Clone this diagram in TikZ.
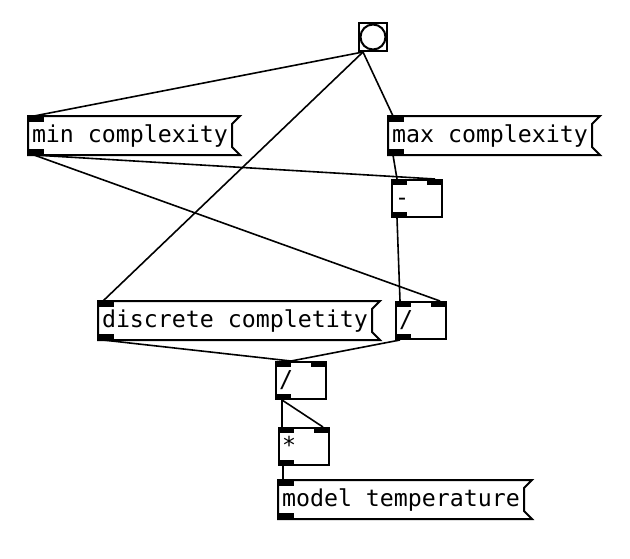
\documentclass[tikz,border=0pt]{standalone}
\usepackage{fontspec}
\newfontfamily\pdfont{DejaVu Sans Mono}
\tikzset{
  pdbox/.style={anchor=north west, line width=1.5pt, inner xsep=2.25pt, inner ysep=0pt,
    text height=18.75pt, text depth=9pt, font=\pdfont\fontsize{17.44pt}{20pt}\selectfont},
  pdobj/.style={pdbox, draw, text width=33pt, align=left,
    path picture={
      \fill (path picture bounding box.north west) rectangle ++(15,5);
      \fill (path picture bounding box.north east) rectangle ++(-15,5);
      \fill (path picture bounding box.south west) rectangle ++(15,-5);}},
  pdmsg/.style={pdbox,
    path picture={
      \fill (path picture bounding box.north west) rectangle ++(15,5);
      \fill (path picture bounding box.south west) rectangle ++(15,-5);},
    append after command={
      \pgfextra{\let\msgnode\tikzlastnode
        \draw[line width=1.5pt] (\msgnode.north west) -- ([shift={(8,0)}]\msgnode.north east)
          -- ([shift={(0,8)}]\msgnode.north east) -- ([shift={(0,-8)}]\msgnode.south east)
          -- ([shift={(8,0)}]\msgnode.south east) -- (\msgnode.south west) -- cycle;}}},
  pdbang/.style={draw, line width=1.5pt, anchor=north west, inner sep=0pt, minimum size=21pt,
    path picture={\draw[line width=1.5pt] (path picture bounding box.center) circle (12.5);}},
  wire/.style={line width=1.2pt}
}
\begin{document}
\begin{tikzpicture}[x=0.75pt, y=-0.75pt]
  \useasboundingbox (0,0) rectangle (630,558);
%
  % boxes
  \node[pdbang] (bang) at (358,22) {};
  \node[pdmsg] (minc) at (28,116) {min complexity};
  \node[pdmsg] (maxc) at (388,116) {max complexity};
  \node[pdobj] (minus) at (391,179) {-};
  \node[pdmsg] (disc) at (98,301) {discrete completity};
  \node[pdobj] (divr) at (395,301) {/};
  \node[pdobj] (divm) at (275,361) {/};
  \node[pdobj] (mul) at (278,427) {*};
  \node[pdmsg] (temp) at (278,480) {model temperature};
%
  % wires
  \draw[wire] ([shift={(5,0)}]bang.south west) -- ([shift={(6,0)}]minc.north west);
  \draw[wire] ([shift={(5,0)}]bang.south west) -- ([shift={(5,0)}]disc.north west);
  \draw[wire] ([shift={(5,0)}]bang.south west) -- ([shift={(5,0)}]maxc.north west);
  \draw[wire] ([shift={(6,0)}]minc.south west) -- ([shift={(-8,0)}]minus.north east);
  \draw[wire] ([shift={(6,0)}]minc.south west) -- ([shift={(-7,0)}]divr.north east);
  \draw[wire] ([shift={(5,0)}]maxc.south west) -- ([shift={(6,0)}]minus.north west);
  \draw[wire] ([shift={(6,0)}]minus.south west) -- ([shift={(5,0)}]divr.north west);
  \draw[wire] ([shift={(5,0)}]disc.south west) -- ([shift={(16,0)}]divm.north west);
  \draw[wire] ([shift={(5,0)}]divr.south west) -- ([shift={(16,0)}]divm.north west);
  \draw[wire] ([shift={(7,0)}]divm.south west) -- ([shift={(4,0)}]mul.north west);
  \draw[wire] ([shift={(7,0)}]divm.south west) -- ([shift={(-7,0)}]mul.north east);
  \draw[wire] ([shift={(5,0)}]mul.south west) -- ([shift={(5,0)}]temp.north west);
\end{tikzpicture}
\end{document}
